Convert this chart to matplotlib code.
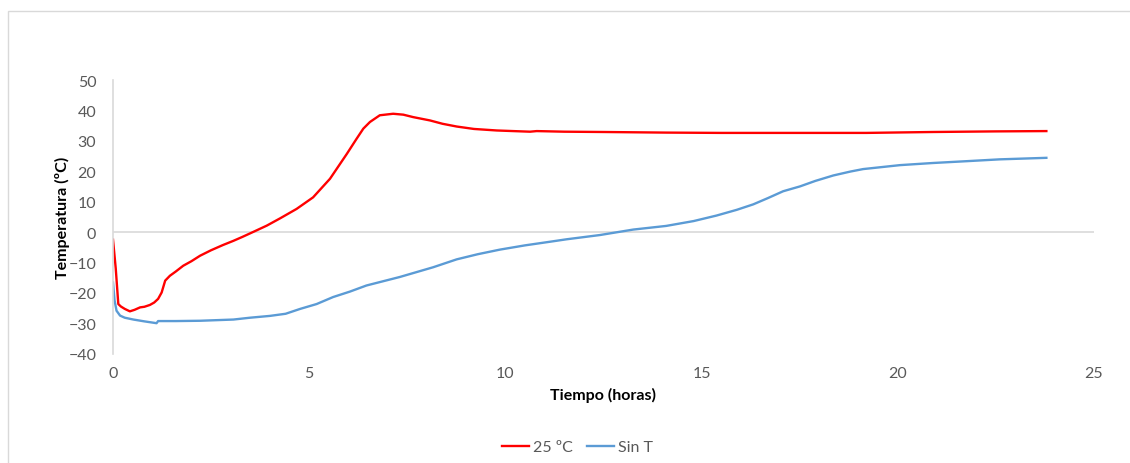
import matplotlib
matplotlib.use("Agg")
import matplotlib.pyplot as plt
from matplotlib.patches import Rectangle

# Temperature logs (hours, ºC)
hours_25 = [0.0, 0.07, 0.135, 0.2, 0.3, 0.43, 0.55, 0.69, 0.8, 0.94, 1.05, 1.15, 1.24,
            1.33, 1.45, 1.6, 1.79, 2.0, 2.22, 2.5, 2.8, 3.07, 3.3, 3.57, 3.92, 4.26,
            4.68, 5.1, 5.53, 5.96, 6.2, 6.38, 6.55, 6.8, 7.14, 7.4, 7.65, 8.08, 8.4,
            8.76, 9.2, 9.78, 10.2, 10.63, 10.8, 11.5, 12.5, 14.1, 15.5, 17.5, 19.2,
            20.9, 22.5, 23.79]
temp_25 = [-2.5, -12.0, -23.7, -24.5, -25.3, -26.1, -25.6, -24.8, -24.6, -24.0, -23.2,
           -22.0, -19.9, -16.0, -14.4, -13.0, -11.1, -9.6, -7.8, -6.0, -4.3, -2.9, -1.6,
           0.0, 2.1, 4.5, 7.6, 11.4, 17.5, 25.7, 30.5, 34.0, 36.2, 38.4, 38.9, 38.6,
           37.8, 36.7, 35.6, 34.7, 33.9, 33.4, 33.2, 33.0, 33.2, 33.0, 32.9, 32.7,
           32.6, 32.6, 32.6, 32.9, 33.1, 33.2]

hours_sin = [0.0, 0.04, 0.09, 0.18, 0.3, 0.52, 0.8, 1.11, 1.15, 1.6, 2.22, 3.07, 3.49,
             4.0, 4.4, 4.77, 5.19, 5.61, 6.04, 6.46, 7.31, 8.16, 8.76, 9.3, 9.86, 10.5,
             11.14, 11.56, 12.41, 13.26, 14.1, 14.8, 15.38, 15.9, 16.32, 16.7, 17.08,
             17.51, 17.9, 18.36, 18.8, 19.12, 20.06, 20.9, 21.76, 22.6, 23.79]
temp_sin = [-16.6, -22.5, -25.9, -27.5, -28.2, -28.8, -29.4, -30.0, -29.3, -29.3, -29.2,
            -28.8, -28.2, -27.6, -26.9, -25.3, -23.7, -21.4, -19.6, -17.6, -14.8, -11.6,
            -9.0, -7.3, -5.8, -4.4, -3.2, -2.4, -1.0, 0.8, 2.0, 3.6, 5.4, 7.3, 9.1,
            11.2, 13.4, 15.0, 16.8, 18.6, 19.9, 20.7, 22.0, 22.7, 23.3, 23.9, 24.4]

x_ticks = [0, 5, 10, 15, 20, 25]
y_ticks = [-40, -30, -20, -10, 0, 10, 20, 30, 40, 50]

RED = "#FF0000"
BLUE = "#5B9BD5"
GRID = "#D9D9D9"
TICK = "#595959"
FONT = ["Lato", "DejaVu Sans"]
SIZE = 11.5

fig = plt.figure(figsize=(11.3, 4.64), dpi=100)
fig.patch.set_facecolor("white")

# Chart-area frame
fig.add_artist(Rectangle((8 / 1130, -0.02), 1.05, 1 - 12 / 464 + 0.02,
                         transform=fig.transFigure, fill=False,
                         edgecolor=GRID, linewidth=1.0))

ax = fig.add_axes([0.1, 0.2358, 0.868, 0.5896])
ax.plot(hours_25, temp_25, color=RED, linewidth=1.7, label="25 ºC",
        solid_joinstyle="round")
ax.plot(hours_sin, temp_sin, color=BLUE, linewidth=1.7, label="Sin T",
        solid_joinstyle="round")

ax.set_xlim(0, 25)
ax.set_ylim(-40, 50)
ax.set_xticks(x_ticks)
ax.set_yticks(y_ticks)

# Horizontal axis crosses at zero; labels stay at the bottom
ax.axhline(0, color=GRID, linewidth=1.2, zorder=0)
for side in ("top", "right", "bottom"):
    ax.spines[side].set_visible(False)
ax.spines["left"].set_color(GRID)
ax.spines["left"].set_linewidth(1.2)
ax.tick_params(axis="both", length=0, labelcolor=TICK, labelsize=SIZE)
ax.tick_params(axis="x", pad=9)
ax.tick_params(axis="y", pad=12)
for lbl in ax.get_xticklabels() + ax.get_yticklabels():
    lbl.set_fontfamily(FONT)

ax.set_xlabel("Tiempo (horas)", fontsize=SIZE, fontweight="bold",
              family=FONT, labelpad=5)
ax.set_ylabel("Temperatura (ºC)", fontsize=SIZE, fontweight="bold",
              family=FONT, labelpad=-1)

leg = fig.legend(loc="center", bbox_to_anchor=(0.511, 0.034), ncol=2,
                 frameon=False, handlelength=1.7, handletextpad=0.25,
                 columnspacing=0.9, prop={"family": FONT, "size": SIZE})
for t in leg.get_texts():
    t.set_color(TICK)

fig.savefig("out.png", dpi=100, facecolor="white")
